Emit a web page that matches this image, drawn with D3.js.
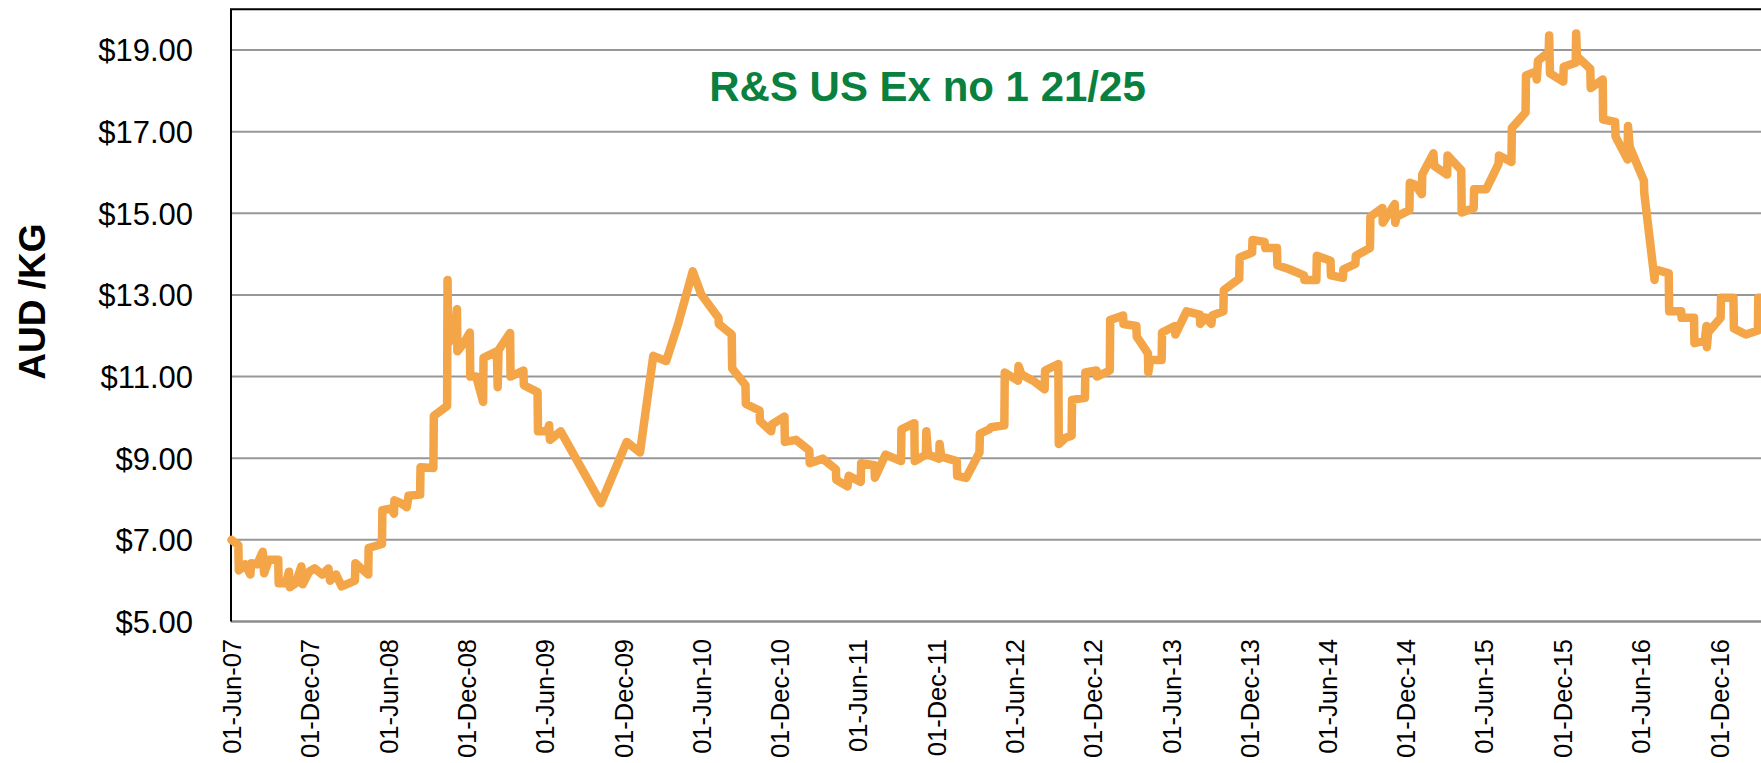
<!DOCTYPE html>
<html>
<head>
<meta charset="utf-8">
<script src="https://cdn.jsdelivr.net/npm/d3@7"></script>
<style>
  body { margin: 0; background: #fff; }
  svg { display: block; font-family: "Liberation Sans", Arial, sans-serif; }
</style>
</head>
<body>
<div id="container"></div>
<script>
// sale dates and prices (AUD/kg)
const saleDates = [
    '2007-06-01', '2007-06-17', '2007-06-18', '2007-07-03', '2007-07-15', '2007-07-17', '2007-07-31', '2007-08-13',
    '2007-08-16', '2007-08-27', '2007-09-18', '2007-09-19', '2007-10-06', '2007-10-13', '2007-10-15', '2007-10-29',
    '2007-11-11', '2007-11-14', '2007-11-29', '2007-12-12', '2007-12-30', '2008-01-13', '2008-01-17', '2008-01-31',
    '2008-02-13', '2008-03-15', '2008-03-16', '2008-04-15', '2008-04-16', '2008-05-17', '2008-05-18',
    '2008-06-08', '2008-06-14', '2008-06-15', '2008-06-30', '2008-07-14', '2008-07-18', '2008-08-14', '2008-08-15',
    '2008-09-14', '2008-09-15', '2008-10-16', '2008-10-17', '2008-10-19', '2008-11-04', '2008-11-08', '2008-11-09',
    '2008-11-24', '2008-12-08', '2008-12-09', '2008-12-23', '2009-01-08', '2009-01-09', '2009-02-09', '2009-02-11',
    '2009-02-13', '2009-03-12', '2009-03-13', '2009-04-12', '2009-04-13', '2009-05-15', '2009-05-16',
    '2009-06-07', '2009-06-11', '2009-06-13', '2009-07-08', '2009-10-10', '2009-12-09', '2010-01-09', '2010-02-09',
    '2010-03-11', '2010-04-08', '2010-05-12',
    '2010-06-01', '2010-07-11', '2010-07-12', '2010-08-11', '2010-08-12', '2010-09-12', '2010-09-13', '2010-10-15',
    '2010-10-16', '2010-11-11', '2010-11-13', '2010-12-12', '2010-12-13', '2011-01-08', '2011-02-08', '2011-02-09',
    '2011-03-11', '2011-04-11', '2011-04-12', '2011-05-08', '2011-05-11',
    '2011-06-08', '2011-06-09', '2011-07-10', '2011-07-11', '2011-08-05', '2011-09-10', '2011-09-11', '2011-10-11',
    '2011-10-12', '2011-11-07', '2011-11-08', '2011-11-12', '2011-12-08', '2011-12-09', '2011-12-13', '2012-01-18',
    '2012-01-19', '2012-02-09', '2012-03-11', '2012-03-12', '2012-04-03', '2012-04-07', '2012-05-08', '2012-05-09',
    '2012-06-09', '2012-06-10', '2012-06-17', '2012-07-14', '2012-08-10', '2012-08-11', '2012-09-11', '2012-09-12',
    '2012-09-28', '2012-10-12', '2012-10-13', '2012-11-12', '2012-11-13', '2012-12-09', '2012-12-10', '2013-01-09',
    '2013-01-10', '2013-02-09', '2013-02-10', '2013-03-12', '2013-03-13', '2013-04-08', '2013-04-09', '2013-04-13',
    '2013-05-10', '2013-05-11',
    '2013-06-10', '2013-06-11', '2013-07-07', '2013-08-07', '2013-08-08', '2013-08-20', '2013-09-03', '2013-09-05',
    '2013-10-01', '2013-10-02', '2013-11-07', '2013-11-08', '2013-12-07', '2013-12-08', '2014-01-05', '2014-01-07',
    '2014-02-03', '2014-02-04', '2014-03-04', '2014-04-07', '2014-04-08', '2014-05-06', '2014-05-07',
    '2014-06-08', '2014-06-09', '2014-07-07', '2014-07-08', '2014-08-05', '2014-08-06', '2014-09-08', '2014-09-09',
    '2014-10-07', '2014-10-08', '2014-11-05', '2014-11-06', '2014-11-09', '2014-12-09', '2014-12-10', '2014-12-22',
    '2015-01-07', '2015-01-08', '2015-02-03', '2015-02-05', '2015-03-07', '2015-03-08', '2015-04-09', '2015-04-10',
    '2015-05-08', '2015-05-09',
    '2015-06-06', '2015-07-05', '2015-07-06', '2015-08-04', '2015-08-05', '2015-09-06', '2015-09-07', '2015-10-01',
    '2015-10-02', '2015-10-05', '2015-10-30', '2015-10-31', '2015-11-02', '2015-12-03', '2015-12-04', '2016-01-01',
    '2016-01-02', '2016-01-04', '2016-02-04', '2016-02-05', '2016-03-04', '2016-03-05', '2016-04-02', '2016-04-03',
    '2016-05-01', '2016-05-02', '2016-05-06',
    '2016-06-08', '2016-06-09', '2016-07-03', '2016-07-04', '2016-08-05', '2016-08-06', '2016-09-03', '2016-09-04',
    '2016-10-03', '2016-10-04', '2016-10-28', '2016-11-01', '2016-11-02', '2016-11-05', '2016-12-04', '2016-12-05',
    '2017-01-03', '2017-01-04', '2017-02-01', '2017-03-01', '2017-03-02', '2017-03-14'
];

const salePrices = [
    7.00, 6.87, 6.25, 6.40, 6.15, 6.43, 6.40, 6.71,
    6.18, 6.51, 6.51, 5.94, 5.94, 6.22, 5.84, 5.94,
    6.35, 5.91, 6.22, 6.30, 6.15, 6.30, 6.00, 6.15,
    5.86, 6.00, 6.43, 6.15, 6.80, 6.90, 7.73,
    7.77, 7.64, 7.97, 7.90, 7.80, 8.08, 8.11, 8.78,
    8.76, 10.04, 10.28, 13.37, 11.82, 12.08, 12.65, 11.62,
    11.82, 12.08, 11.00, 11.00, 10.38, 11.46, 11.62, 10.74,
    11.65, 12.07, 11.00, 11.15, 10.79, 10.62, 9.66,
    9.66, 9.81, 9.45, 9.66, 7.90, 9.40, 9.14, 11.51,
    11.38, 12.29, 13.58,
    13.01, 12.44, 12.29, 12.03, 11.20, 10.79, 10.33, 10.17,
    9.91, 9.66, 9.83, 10.02, 9.40, 9.45, 9.19, 8.88,
    8.99, 8.73, 8.47, 8.31, 8.57,
    8.42, 8.88, 8.83, 8.52, 9.09, 8.93, 9.71, 9.86,
    8.93, 9.09, 9.66, 9.09, 8.99, 9.35, 9.04, 8.93,
    8.57, 8.52, 9.14, 9.60, 9.71, 9.76, 9.81, 11.10,
    10.90, 11.26, 11.05, 10.90, 10.69, 11.15, 11.31, 9.35,
    9.50, 9.55, 10.43, 10.48, 11.10, 11.15, 11.00, 11.15,
    12.39, 12.50, 12.29, 12.24, 11.98, 11.57, 11.10, 11.41,
    11.41, 12.08,
    12.24, 12.03, 12.60, 12.52, 12.29, 12.45, 12.29, 12.50,
    12.60, 13.12, 13.40, 13.92, 14.04, 14.35, 14.30, 14.15,
    14.15, 13.73, 13.63, 13.48, 13.37, 13.37, 13.96,
    13.84, 13.48, 13.42, 13.63, 13.76, 13.96, 14.15, 14.92,
    15.13, 14.77, 15.23, 14.77, 14.92, 15.08, 15.75, 15.70,
    15.47, 15.95, 16.47, 16.16, 15.95, 16.42, 16.06, 15.02,
    15.13, 15.59,
    15.59, 16.21, 16.42, 16.26, 17.09, 17.47, 18.38, 18.48,
    18.28, 18.74, 18.95, 19.36, 18.43, 18.23, 18.59, 18.69,
    19.41, 18.85, 18.54, 18.07, 18.28, 17.30, 17.24, 16.88,
    16.32, 17.14, 16.63,
    15.80, 15.49, 13.37, 13.63, 13.53, 12.60, 12.60, 12.44,
    12.44, 11.82, 11.88, 12.24, 11.72, 12.08, 12.44, 12.93,
    12.93, 12.18, 12.03, 12.13, 12.93, 12.93
];

const tickDates = [
    '2007-06-01', '2007-12-01', '2008-06-01', '2008-12-01', '2009-06-01', '2009-12-01', '2010-06-01',
    '2010-12-01', '2011-06-01', '2011-12-01', '2012-06-01', '2012-12-01', '2013-06-01', '2013-12-01',
    '2014-06-01', '2014-12-01', '2015-06-01', '2015-12-01', '2016-06-01', '2016-12-01'
];
const priceTicks = [5, 7, 9, 11, 13, 15, 17, 19];

const chartTitle = 'R&S US Ex no 1 21/25';
const yTitle = 'AUD /KG';

window.addEventListener('DOMContentLoaded', (event) => {

    const width = 1761;
    const height = 763;
    const left = 231;
    const top = 9.3;
    const bottom = 621.5;

    const parse = d3.timeParse('%Y-%m-%d');
    const data = saleDates.map((d, i) => ({ date: parse(d), value: salePrices[i] }));

    const svg = d3.select('#container')
        .append('svg')
        .attr('width', width)
        .attr('height', height);

    const x = d3.scaleTime()
        .domain([parse('2007-06-01'), parse('2016-12-01')])
        .range([231.5, 1719.3]);

    const y = d3.scaleLinear()
        .domain([5, 20])
        .range([bottom, top]);

    // gridlines
    svg.append('g')
        .selectAll('line')
        .data(priceTicks.slice(1))
        .enter()
        .append('line')
        .attr('x1', left)
        .attr('x2', width)
        .attr('y1', d => y(d))
        .attr('y2', d => y(d))
        .attr('stroke', '#979797')
        .attr('stroke-width', 2);

    // y axis
    const yAxis = svg.append('g')
        .attr('transform', `translate(${left},0)`)
        .call(d3.axisLeft(y)
            .tickValues(priceTicks)
            .tickSize(0)
            .tickPadding(38)
            .tickFormat(d => '$' + d.toFixed(2)));
    yAxis.select('.domain').remove();
    yAxis.selectAll('text')
        .attr('dy', '0.35em')
        .attr('font-size', 31)
        .attr('font-family', '"Liberation Sans", Arial, sans-serif')
        .attr('fill', '#000');

    // x axis
    const xAxis = svg.append('g')
        .attr('transform', `translate(0,${bottom})`)
        .call(d3.axisBottom(x)
            .tickValues(tickDates.map(parse))
            .tickSize(0)
            .tickFormat(d3.timeFormat('%d-%b-%y')));
    xAxis.select('.domain').remove();
    xAxis.selectAll('text')
        .attr('transform', 'rotate(-90)')
        .attr('x', -17.5)
        .attr('y', 0)
        .attr('dy', '0.35em')
        .attr('text-anchor', 'end')
        .attr('font-size', 25.5)
        .attr('font-family', '"Liberation Sans", Arial, sans-serif')
        .attr('fill', '#000');

    // bottom axis line
    svg.append('line')
        .attr('x1', left)
        .attr('x2', width)
        .attr('y1', bottom)
        .attr('y2', bottom)
        .attr('stroke', '#8c8c8c')
        .attr('stroke-width', 2.5);

    // plot border, left and top
    svg.append('path')
        .attr('d', `M${width},${top}H${left}V${bottom}`)
        .attr('fill', 'none')
        .attr('stroke', '#000')
        .attr('stroke-width', 2);

    // price line
    svg.append('path')
        .datum(data)
        .attr('fill', 'none')
        .attr('stroke', '#F3A548')
        .attr('stroke-width', 8.5)
        .attr('stroke-linejoin', 'round')
        .attr('stroke-linecap', 'round')
        .attr('d', d3.line()
            .x(d => x(d.date))
            .y(d => y(d.value)));

    // chart title
    svg.append('text')
        .attr('x', 927.5)
        .attr('y', 101)
        .attr('text-anchor', 'middle')
        .attr('font-size', 42)
        .attr('font-weight', 'bold')
        .attr('fill', '#0A803E')
        .text(chartTitle);

    // y axis title
    svg.append('text')
        .attr('transform', 'translate(32.5,301.7) rotate(-90)')
        .attr('text-anchor', 'middle')
        .attr('dy', '0.35em')
        .attr('font-size', 37)
        .attr('font-weight', 'bold')
        .attr('fill', '#000')
        .text(yTitle);

}); // end of document ready
</script>
</body>
</html>
